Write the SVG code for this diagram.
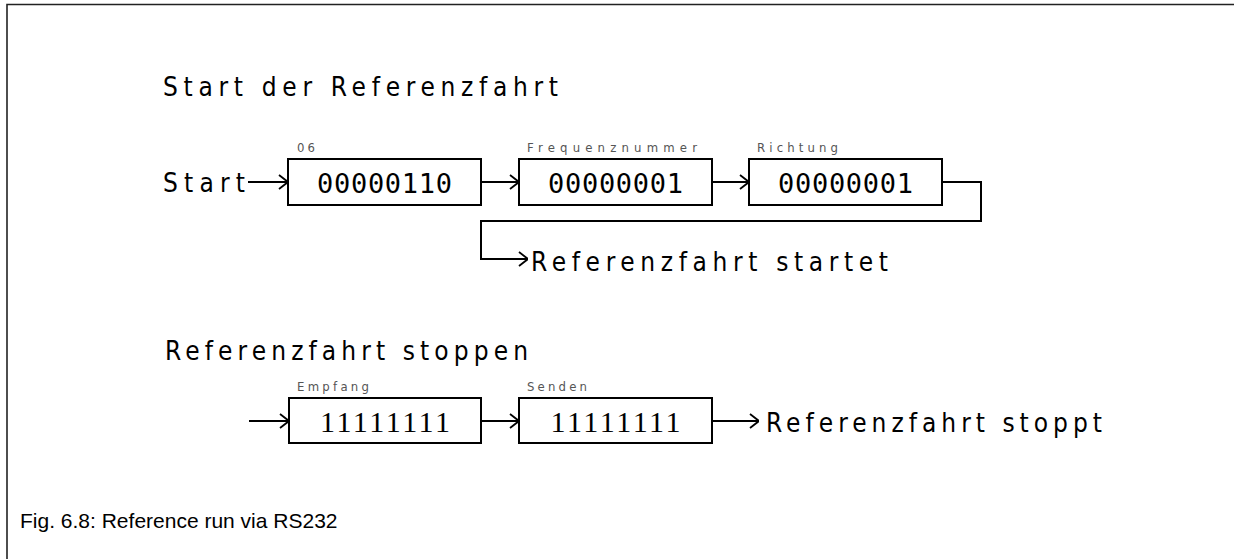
<svg xmlns="http://www.w3.org/2000/svg" width="1234" height="559" viewBox="0 0 1234 559">
<defs>
<marker id="arr" viewBox="0 0 10 16" refX="10" refY="8" markerWidth="10" markerHeight="16" markerUnits="userSpaceOnUse" orient="auto">
<path d="M1,1 L10,8 L1,15" fill="none" stroke="#000" stroke-width="1.8"/>
</marker>
<style>
.box{fill:#fff;stroke:#000;stroke-width:2}
.ln{fill:none;stroke:#000;stroke-width:2}
.cad{font-family:"DejaVu Sans","Liberation Sans",sans-serif;font-size:26px;font-stretch:condensed;fill:#000}
.small{font-family:"DejaVu Sans","Liberation Sans",sans-serif;font-size:13px;font-stretch:condensed;fill:#555}
.bin{font-family:"DejaVu Sans Mono","Liberation Mono",monospace;font-size:27px;fill:#000;text-anchor:middle}
.ser{font-family:"Liberation Serif","DejaVu Serif",serif;font-size:30px;fill:#000;text-anchor:middle}
.cap{font-family:"Liberation Sans",Arial,sans-serif;font-size:21px;fill:#000}
</style>
</defs>
<rect width="1234" height="559" fill="#fff"/>
<path d="M7,559 L7,4.5 L1234,4.5" fill="none" stroke="#222" stroke-width="1.6"/>

<text class="cad" x="163" y="96" textLength="395" lengthAdjust="spacing">Start der Referenzfahrt</text>
<text class="cad" x="163" y="192" textLength="82" lengthAdjust="spacing">Start</text>
<text class="cad" x="531" y="271" textLength="357" lengthAdjust="spacing">Referenzfahrt startet</text>
<text class="cad" x="165" y="360" textLength="363" lengthAdjust="spacing">Referenzfahrt stoppen</text>
<text class="cad" x="766" y="432" textLength="336" lengthAdjust="spacing">Referenzfahrt stoppt</text>

<g id="connectors">
<line class="ln" x1="248" y1="182" x2="288" y2="182" marker-end="url(#arr)"/>
<line class="ln" x1="481" y1="182" x2="519" y2="182" marker-end="url(#arr)"/>
<line class="ln" x1="712" y1="182" x2="749" y2="182" marker-end="url(#arr)"/>
<path class="ln" d="M942,182 L981,182 L981,221 L481,221 L481,259 L528,259" marker-end="url(#arr)"/>
<line class="ln" x1="249" y1="421" x2="289" y2="421" marker-end="url(#arr)"/>
<line class="ln" x1="481" y1="421" x2="519" y2="421" marker-end="url(#arr)"/>
<line class="ln" x1="712" y1="421" x2="759" y2="421" marker-end="url(#arr)"/>
</g>

<g id="node-06">
<text class="small" x="297" y="152" textLength="18" lengthAdjust="spacing">06</text>
<rect class="box" x="288" y="159" width="193" height="46"/>
<text class="bin" x="384.5" y="193" textLength="135" lengthAdjust="spacing">00000110</text>
</g>
<g id="node-frequenznummer">
<text class="small" x="527" y="152" textLength="170" lengthAdjust="spacing">Frequenznummer</text>
<rect class="box" x="519" y="159" width="193" height="46"/>
<text class="bin" x="615.5" y="193" textLength="135" lengthAdjust="spacing">00000001</text>
</g>
<g id="node-richtung">
<text class="small" x="757" y="152" textLength="81" lengthAdjust="spacing">Richtung</text>
<rect class="box" x="749" y="159" width="193" height="46"/>
<text class="bin" x="845.5" y="193" textLength="135" lengthAdjust="spacing">00000001</text>
</g>
<g id="node-empfang">
<text class="small" x="297" y="391" textLength="72" lengthAdjust="spacing">Empfang</text>
<rect class="box" x="289" y="398" width="192" height="45"/>
<text class="ser" x="385" y="432" textLength="130" lengthAdjust="spacing">11111111</text>
</g>
<g id="node-senden">
<text class="small" x="527" y="391" textLength="60" lengthAdjust="spacing">Senden</text>
<rect class="box" x="519" y="398" width="193" height="45"/>
<text class="ser" x="615.5" y="432" textLength="130" lengthAdjust="spacing">11111111</text>
</g>

<text class="cap" x="20" y="528">Fig. 6.8: Reference run via RS232</text>
</svg>
